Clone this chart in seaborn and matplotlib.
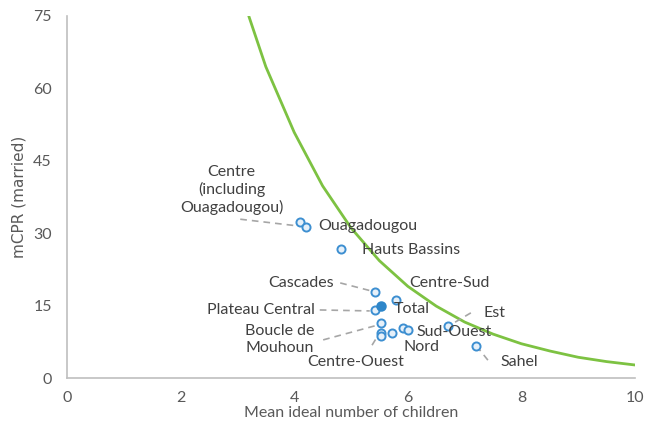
import matplotlib
matplotlib.use("Agg")
import matplotlib.pyplot as plt
import numpy as np
import pandas as pd
import seaborn as sns

# regions: mean ideal number of children vs mCPR (married)
regions = ["Centre", "Ouagadougou", "Hauts Bassins", "Cascades", "Centre-Sud",
           "Total", "Plateau Central", "Boucle de Mouhoun", "Centre-Est",
           "Centre-Ouest", "Centre-Nord", "Nord", "Sud-Ouest", "Est", "Sahel"]
ideal_children = [4.10, 4.21, 4.82, 5.42, 5.79, 5.52, 5.42, 5.52, 5.52,
                  5.52, 5.72, 5.91, 6.01, 6.71, 7.20]
mcpr = [32.3, 31.3, 26.7, 17.8, 16.2, 14.9, 14.0, 11.3, 9.4,
        8.7, 9.3, 10.3, 9.9, 10.8, 6.6]

# trend curve
curve_x = [3.2, 3.5, 4.0, 4.5, 5.0, 5.5, 6.0, 6.5, 7.0, 7.5, 8.0, 8.5, 9.0, 9.5, 10.0]
curve_y = [75.0, 64.5, 50.9, 39.8, 31.1, 24.3, 19.0, 14.9, 11.6, 9.1, 7.1, 5.6, 4.3, 3.4, 2.7]

x_ticks = [0, 2, 4, 6, 8, 10]
y_ticks = [0, 15, 30, 45, 60, 75]

# label layout: text, text position, alignment, optional leader line
labels = {
    "Centre": ("Centre\n(including\nOuagadougou)", (2.90, 38.9), "center", ((3.05, 32.9), (4.07, 31.5))),
    "Ouagadougou": ("Ouagadougou", (4.42, 31.4), "left", None),
    "Hauts Bassins": ("Hauts Bassins", (5.19, 26.5), "left", None),
    "Cascades": ("Cascades", (4.70, 19.6), "right", ((4.81, 19.7), (5.37, 18.0))),
    "Centre-Sud": ("Centre-Sud", (6.02, 19.6), "left", None),
    "Total": ("Total", (5.76, 14.4), "left", None),
    "Plateau Central": ("Plateau Central", (4.37, 14.1), "right", ((4.45, 14.1), (5.33, 13.9))),
    "Boucle de Mouhoun": ("Boucle de\nMouhoun", (3.75, 8.0), "center", ((4.51, 7.9), (5.48, 11.0))),
    "Centre-Ouest": ("Centre-Ouest", (5.09, 3.4), "center", ((5.37, 6.8), (5.48, 8.9))),
    "Sud-Ouest": ("Sud-Ouest", (6.16, 9.5), "left", None),
    "Nord": ("Nord", (5.93, 6.5), "left", None),
    "Est": ("Est", (7.34, 13.4), "left", ((7.11, 13.5), (6.78, 11.2))),
    "Sahel": ("Sahel", (7.64, 3.3), "left", ((7.41, 3.7), (7.24, 6.2))),
}

df = pd.DataFrame({"region": regions, "ideal": ideal_children, "mcpr": mcpr})
df["kind"] = np.where(df["region"] == "Total", "total", "region")
curve = pd.DataFrame({"x": curve_x, "y": curve_y})

sns.set_theme(style="white")
plt.rcParams["font.family"] = ["Lato", "DejaVu Sans"]

TEXT = "#404040"
fig = plt.figure(figsize=(6.45, 4.21), dpi=100)
ax = fig.add_axes([0.1039, 0.1021, 0.8806, 0.8599])

sns.lineplot(data=curve, x="x", y="y", ax=ax, color="#7DC242", lw=2, zorder=2)

sns.scatterplot(data=df[df["kind"] == "region"], x="ideal", y="mcpr", ax=ax,
                s=34, color="#E6F0F9", edgecolor="#3D8FD1", linewidth=1.4, zorder=4)
sns.scatterplot(data=df[df["kind"] == "total"], x="ideal", y="mcpr", ax=ax,
                s=40, color="#2E86C9", edgecolor="#2E86C9", linewidth=1.2, zorder=5)

for name, (text, pos, ha, leader) in labels.items():
    ax.text(pos[0], pos[1], text, ha=ha, va="center", fontsize=11.5,
            color=TEXT, linespacing=1.25, zorder=6)
    if leader is not None:
        (x0, y0), (x1, y1) = leader
        ax.plot([x0, x1], [y0, y1], color="#A6A6A6", lw=1.2,
                ls=(0, (4, 3)), zorder=3)

ax.set_xlim(0, 10)
ax.set_ylim(0, 75)
ax.set_xticks(x_ticks)
ax.set_yticks(y_ticks)
ax.tick_params(axis="x", length=0, labelsize=11.5, labelcolor="#595959", pad=9)
ax.tick_params(axis="y", length=0, labelsize=11.5, labelcolor="#595959", pad=11)
ax.set_xlabel("")
ax.set_ylabel("mCPR (married)", fontsize=11, color="#595959", family=["DejaVu Sans"],
              labelpad=4)
ax.yaxis.set_label_coords(-0.072, 0.5)
fig.text(0.544, 0.002, "Mean ideal number of children", ha="center", va="bottom",
         fontsize=11.5, color="#595959")

sns.despine(ax=ax)
for side in ["left", "bottom"]:
    ax.spines[side].set_color("#BFBFBF")
    ax.spines[side].set_linewidth(1.2)
ax.grid(False)

fig.savefig("out.png", dpi=100)
